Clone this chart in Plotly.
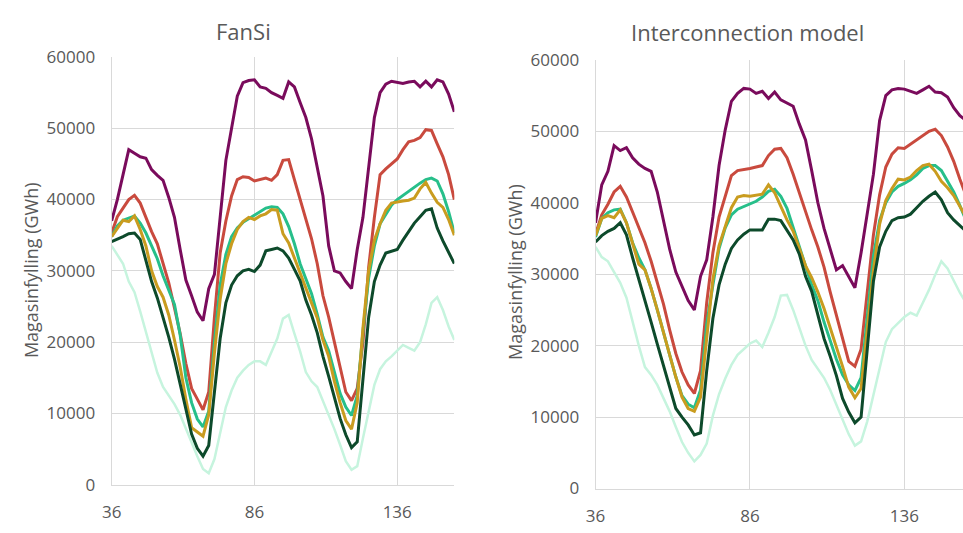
import plotly.graph_objects as go

weeks = list(range(36, 157, 2))

# FanSi
fansi_purple = [37000, 40000, 43500, 47000, 46500, 46000, 45800, 44200, 43400, 42700, 40300, 37500, 33000, 28700, 26500, 24200, 23000, 27500, 29500, 38000, 45500, 50000, 54500, 56400, 56700, 56800, 55800, 55600, 55000, 54600, 54200, 56500, 55800, 53600, 51500, 48500, 44500, 40500, 33500, 30000, 29700, 28500, 27500, 33000, 37500, 44500, 51500, 55000, 56200, 56600, 56500, 56300, 56500, 56600, 55800, 56600, 55800, 56800, 56500, 54800, 52300]
fansi_red = [35300, 37600, 38800, 40000, 40600, 39500, 37500, 35500, 33800, 31000, 28300, 24800, 21200, 17000, 13500, 12000, 10500, 13000, 23500, 32500, 37000, 40500, 42800, 43200, 43100, 42600, 42800, 43000, 42700, 43500, 45500, 45600, 42800, 40000, 37000, 34500, 31000, 26500, 23500, 20000, 16400, 13000, 11800, 13500, 20000, 30500, 37500, 43500, 44300, 45000, 45700, 47000, 48100, 48300, 48700, 49800, 49700, 47800, 46000, 43500, 40000]
fansi_teal = [34800, 36300, 37100, 37400, 37700, 36700, 35300, 33500, 31700, 29300, 27300, 25300, 21000, 15000, 11500, 9200, 8100, 10300, 20000, 28000, 32300, 34800, 36000, 36800, 37300, 37800, 38400, 38800, 39000, 38900, 38000, 36200, 33800, 31000, 28900, 26800, 23900, 20700, 18800, 15600, 12800, 10900, 9700, 12500, 21500, 29000, 33500, 36600, 37900, 39200, 40000, 40600, 41100, 41700, 42300, 42800, 43000, 42600, 40800, 38300, 35300]
fansi_gold = [34800, 36000, 37100, 36900, 37700, 35800, 33500, 30000, 27800, 26300, 23800, 20300, 16500, 12000, 8000, 7400, 6800, 9800, 18500, 26000, 31000, 33800, 35800, 36900, 37500, 37200, 37700, 38000, 38600, 38500, 35200, 33900, 31800, 29800, 27800, 25600, 23400, 20300, 18000, 14500, 11500, 9000, 7800, 11500, 22000, 30000, 34300, 36600, 38500, 39500, 39700, 39800, 39900, 40200, 41500, 42400, 40900, 39600, 38900, 37200, 35000]
fansi_dark = [34100, 34400, 34800, 35200, 35300, 34400, 31300, 28500, 26200, 23500, 20700, 17600, 14200, 10600, 7100, 5100, 4000, 5500, 13000, 20500, 25500, 28000, 29300, 30000, 30200, 29900, 30800, 32800, 33000, 33200, 32800, 31800, 30200, 28600, 25900, 23800, 21300, 18000, 15200, 12300, 9300, 7000, 5200, 6000, 14500, 23500, 28500, 30800, 32500, 32800, 33000, 34300, 35500, 36700, 37600, 38500, 38700, 36000, 34200, 32500, 31000]
fansi_mint = [33500, 32300, 31000, 28500, 27000, 24300, 21300, 18300, 15700, 13700, 12500, 11300, 9800, 7800, 6000, 4000, 2200, 1600, 3600, 7500, 10900, 13200, 15000, 16000, 16800, 17300, 17300, 16800, 18600, 20500, 23300, 23800, 21200, 18700, 15800, 14500, 13700, 11800, 9700, 7800, 5600, 3300, 2100, 2600, 6500, 10500, 14000, 16200, 17300, 18000, 18800, 19600, 19200, 18800, 20000, 22500, 25500, 26300, 24500, 22200, 20300]

# Interconnection model
ic_purple = [37200, 42500, 44400, 48000, 47300, 47700, 46300, 45400, 44800, 44400, 41500, 37500, 33500, 30300, 28200, 26300, 25000, 29700, 32000, 38000, 45200, 50200, 54200, 55300, 56000, 55900, 55300, 55600, 54600, 55500, 54400, 54000, 53500, 51000, 48800, 44500, 40000, 36400, 33500, 30600, 31200, 29700, 28100, 33000, 38500, 44000, 51500, 55000, 55800, 56000, 55900, 55600, 55300, 55800, 56300, 55500, 55400, 54800, 53300, 52200, 51500]
ic_red = [35600, 38300, 39800, 41500, 42300, 40800, 38700, 36500, 34400, 31800, 28700, 25800, 22200, 18900, 16300, 14500, 13300, 16500, 26000, 33000, 38000, 41000, 43800, 44500, 44600, 44800, 45000, 45200, 46600, 47500, 47600, 46300, 44000, 41300, 38800, 36200, 33800, 31000, 27500, 24200, 20700, 17800, 17100, 19500, 27500, 35500, 41100, 45000, 46800, 47700, 47600, 48200, 48700, 49300, 50000, 50300, 49400, 47800, 45800, 43300, 41000]
ic_teal = [35200, 37800, 38600, 39000, 39100, 37200, 34400, 32300, 30600, 28000, 25000, 22000, 18700, 15600, 13000, 11800, 11300, 13800, 23000, 28500, 33600, 36500, 38300, 39100, 39500, 39900, 40200, 40800, 41600, 41900, 40900, 39200, 36500, 33800, 31000, 28500, 26300, 23300, 20700, 18100, 15900, 14500, 13700, 15500, 24000, 32500, 37500, 40000, 41500, 42300, 42700, 43200, 43900, 44800, 45200, 45200, 44500, 42900, 41500, 39600, 37500]
ic_gold = [35400, 37800, 38200, 37900, 39000, 37200, 34300, 31400, 30600, 28000, 25000, 22000, 18700, 15600, 12800, 11200, 10800, 12800, 21200, 29300, 34000, 36800, 39300, 40800, 41000, 40900, 41100, 41200, 42500, 41400, 39500, 37600, 36000, 33500, 31200, 29500, 27500, 25200, 22500, 20000, 17100, 14200, 12700, 14000, 22000, 30500, 37000, 40300, 42000, 43300, 43200, 43600, 44500, 45200, 45400, 44400, 43000, 42100, 41000, 39500, 38000]
ic_dark = [34500, 35400, 36000, 36400, 37200, 35500, 32300, 29400, 26300, 23300, 20200, 17100, 14000, 11200, 10000, 8900, 7500, 7800, 16500, 23800, 28500, 31400, 33600, 34800, 35600, 36200, 36200, 36200, 37700, 37700, 37500, 36200, 34800, 32800, 29700, 27600, 24400, 21000, 18500, 15800, 12600, 10700, 9200, 10000, 19500, 29000, 33800, 36000, 37500, 37900, 38000, 38400, 39300, 40200, 40900, 41500, 40400, 38600, 37600, 36800, 36000]
ic_mint = [33800, 32400, 31800, 30200, 28800, 26700, 23300, 20000, 17000, 15900, 14500, 12700, 10800, 8600, 6500, 5000, 3800, 4700, 6300, 10200, 13200, 15400, 17300, 18700, 19500, 20300, 20700, 19800, 21800, 24000, 27000, 27100, 25000, 22600, 20000, 18000, 16800, 15500, 13800, 11800, 9800, 7600, 6000, 6600, 9400, 13000, 17000, 20500, 22300, 23200, 24000, 24600, 24200, 26000, 27800, 29900, 31800, 30800, 29000, 27400, 26000]

x_ticks = [36, 86, 136]
y_ticks = [0, 10000, 20000, 30000, 40000, 50000, 60000]
titles = ["FanSi", "Interconnection model"]
y_title = "Magasinfylling (GWh)"

colors = {
    "mint": "#C6F4DE",
    "purple": "#7A0B5C",
    "red": "#C94A3E",
    "teal": "#27BF8A",
    "gold": "#C99C1F",
    "dark": "#0D4A2B",
}

W, H = 963, 533
FONT = "Open Sans"
GRAY = "#595959"
GRID = "#D9D9D9"

fig = go.Figure()

def add_set(series, xa, ya):
    order = [("mint", 2.5), ("purple", 3), ("red", 3), ("teal", 3), ("gold", 3), ("dark", 3)]
    for name, w in order:
        fig.add_trace(go.Scatter(x=weeks, y=series[name], mode="lines",
                                 line=dict(color=colors[name], width=w),
                                 xaxis=xa, yaxis=ya, showlegend=False, hoverinfo="skip"))

add_set({"mint": fansi_mint, "purple": fansi_purple, "red": fansi_red, "teal": fansi_teal,
         "gold": fansi_gold, "dark": fansi_dark}, "x", "y")
add_set({"mint": ic_mint, "purple": ic_purple, "red": ic_red, "teal": ic_teal,
         "gold": ic_gold, "dark": ic_dark}, "x2", "y2")

def px_x(p):
    return p / W

def px_y(p):
    return (H - p) / H

axis_common = dict(showgrid=True, gridcolor=GRID, gridwidth=1, zeroline=False,
                   showline=True, linecolor=GRID, linewidth=1, ticks="",
                   tickfont=dict(family=FONT, size=17, color=GRAY))

# left plot pixel frame
L_x0, L_x1 = 102.7, 449.0
L_y0, L_y1 = 494.0, 47.0
# right plot pixel frame
R_x0 = 591.7
R_scale = 3.12
R_y0, R_y1 = 498.0, 50.0

fig.update_layout(
    width=W, height=H, margin=dict(l=0, r=0, t=0, b=0),
    paper_bgcolor="white", plot_bgcolor="white", showlegend=False,
    xaxis=dict(domain=[px_x(L_x0), px_x(L_x1)], range=[36, 156], tickvals=x_ticks,
               anchor="y", ticklabelstandoff=12, **axis_common),
    yaxis=dict(domain=[px_y(L_y0), px_y(L_y1)], range=[0, 60000], tickvals=y_ticks,
               tickformat="d", anchor="x", ticklabelstandoff=12, **axis_common),
    xaxis2=dict(domain=[px_x(R_x0), 1.0], range=[36, 36 + (W - R_x0) / R_scale], tickvals=x_ticks,
                anchor="y2", ticklabelstandoff=12, **axis_common),
    yaxis2=dict(domain=[px_y(R_y0), px_y(R_y1)], range=[0, 60000], tickvals=y_ticks,
                tickformat="d", anchor="x2", ticklabelstandoff=12, **axis_common),
)

ann = []
ann.append(dict(text=titles[0], x=px_x(236), y=px_y(20), xref="paper", yref="paper",
                showarrow=False, font=dict(family=FONT, size=22, color=GRAY),
                xanchor="center", yanchor="middle"))
ann.append(dict(text=titles[1], x=px_x(745), y=px_y(21), xref="paper", yref="paper",
                showarrow=False, font=dict(family=FONT, size=22, color=GRAY),
                xanchor="center", yanchor="middle"))
ann.append(dict(text=y_title, x=px_x(22), y=px_y(270), xref="paper", yref="paper",
                showarrow=False, textangle=-90, font=dict(family=FONT, size=18, color=GRAY),
                xanchor="center", yanchor="middle"))
ann.append(dict(text=y_title, x=px_x(511), y=px_y(272), xref="paper", yref="paper",
                showarrow=False, textangle=-90, font=dict(family=FONT, size=18, color=GRAY),
                xanchor="center", yanchor="middle"))
fig.update_layout(annotations=ann)

fig.write_html("out.html")
